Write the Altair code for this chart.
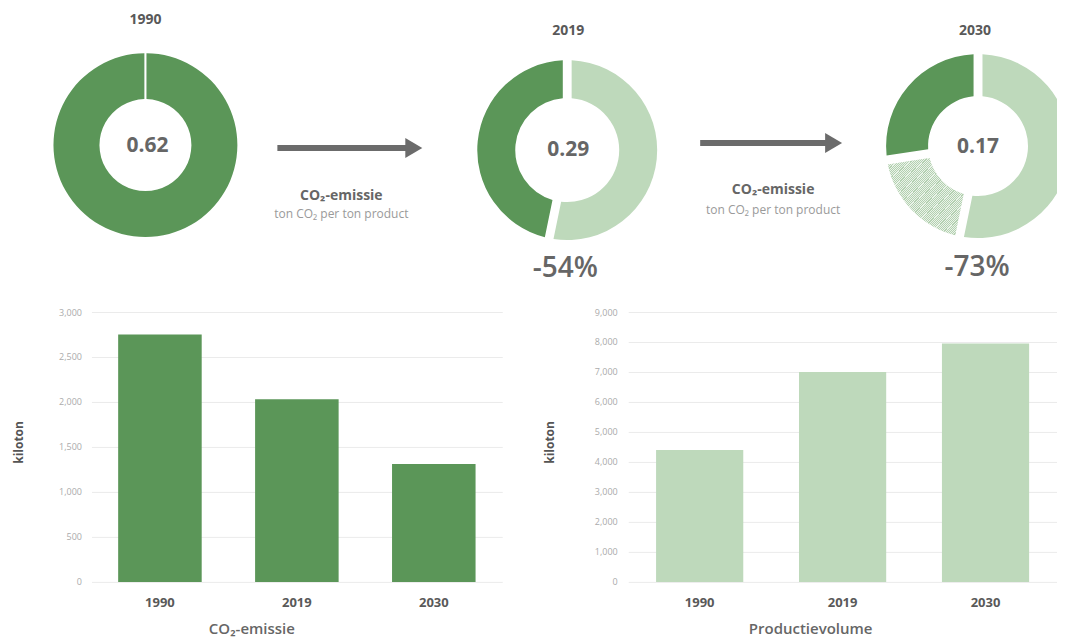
import altair as alt
import pandas as pd

# ---------------- data ----------------
years = ["1990", "2019", "2030"]
intensity = [0.62, 0.29, 0.17]            # ton CO2 per ton product
reduction_labels = ["-54%", "-73%"]
co2_kiloton = [2750, 2030, 1310]
production_kiloton = [4400, 7000, 7950]
co2_ticks = [0, 500, 1000, 1500, 2000, 2500, 3000]
prod_ticks = [0, 1000, 2000, 3000, 4000, 5000, 6000, 7000, 8000, 9000]
arrow_title = "CO₂-emissie"
arrow_sub = "ton CO₂ per ton product"
x_titles = ["CO₂-emissie", "Productievolume"]
y_title = "kiloton"

# ---------------- style ----------------
FONT = "Open Sans"
DARK = "#5b9658"
LIGHT = "#bed9bb"
ARROW = "#6b6b6b"
TXT = "#666666"

theta_scale = alt.Scale(domain=[0, intensity[0]], range=[0, 6.2829])

d1990 = pd.DataFrame({"seg": ["rest"], "value": [intensity[0]],
                      "order": [1], "color": [DARK]})
d2019 = pd.DataFrame({"seg": ["reductie", "rest"],
                      "value": [round(intensity[0] - intensity[1], 2), intensity[1]],
                      "order": [1, 2], "color": [LIGHT, DARK]})
d2030 = pd.DataFrame({"seg": ["reductie", "extra", "rest"],
                      "value": [round(intensity[0] - intensity[1], 2),
                                round(intensity[1] - intensity[2], 2), intensity[2]],
                      "order": [1, 2, 3], "color": [LIGHT, "#e2ede0", DARK]})


def donut(df, cx, cy, r_in, r_out, pad, clip=False):
    return alt.Chart(df).mark_arc(innerRadius=r_in, outerRadius=r_out,
                                  padAngle=pad, clip=clip).encode(
        theta=alt.Theta("value:Q", stack=True, scale=theta_scale),
        order=alt.Order("order:Q"),
        color=alt.Color("color:N", scale=None),
        x=alt.value(cx), y=alt.value(cy),
    )


# fine hatch texture for the extra reduction towards 2030
stops = []
n = 70
for i in range(n):
    a, b, c = i / n, (i + 0.5) / n, (i + 1) / n
    stops += [alt.GradientStop(offset=a, color="#b3d0b0"),
              alt.GradientStop(offset=b, color="#b3d0b0"),
              alt.GradientStop(offset=b, color="#eaf3e9"),
              alt.GradientStop(offset=c, color="#eaf3e9")]
hatch_fill = alt.LinearGradient(gradient="linear", stops=stops, x1=0, y1=0, x2=1, y2=1)

# top panel coordinates: origin = left edge of the first bar chart's plot area
C1990 = (54, 137)
C2019 = (476, 142)
C2030 = (887, 138)

hatch = alt.Chart(d2030).mark_arc(innerRadius=50, outerRadius=92, padAngle=0.085,
                                  clip=True, fill=hatch_fill).encode(
    theta=alt.Theta("value:Q", stack=True, scale=theta_scale),
    order=alt.Order("order:Q"),
    opacity=alt.condition(alt.datum.seg == "extra", alt.value(1), alt.value(0)),
    x=alt.value(C2030[0]), y=alt.value(C2030[1]),
)


def label(text, x, y, size, weight="normal", color=TXT):
    return alt.Chart(pd.DataFrame({"t": [text]})).mark_text(
        font=FONT, fontSize=size, fontWeight=weight, color=color,
        align="center", baseline="middle").encode(
        text="t:N", x=alt.value(x), y=alt.value(y))


def arrow(x0, x1, xh, y):
    df = pd.DataFrame({"a": [0]})
    shaft = alt.Chart(df).mark_rule(color=ARROW, strokeWidth=6).encode(
        x=alt.value(x0), x2=alt.value(x1), y=alt.value(y))
    head = alt.Chart(df).mark_point(shape="M -0.85 -1 L 0.85 0 L -0.85 1 Z",
                                    filled=True, size=400, color=ARROW, opacity=1).encode(
        x=alt.value(xh), y=alt.value(y))
    return [shaft, head]


top_layers = [
    donut(d1990, C1990[0], C1990[1], 46, 92, 0.02),
    donut(d2019, C2019[0], C2019[1], 52, 90, 0.085),
    donut(d2030, C2030[0], C2030[1], 50, 92, 0.085, clip=True),
    hatch,
    label(years[0], 54, 12, 14, "bold", "#595959"),
    label(years[1], 477, 23, 14, "bold", "#595959"),
    label(years[2], 884, 23, 14, "bold", "#595959"),
    label(f"{intensity[0]:.2f}", 56, 138, 21, "bold"),
    label(f"{intensity[1]:.2f}", 477, 142, 21, "bold"),
    label(f"{intensity[2]:.2f}", 887, 139, 21, "bold"),
    label(reduction_labels[0], 474, 261, 28, 600),
    label(reduction_labels[1], 886, 260, 28, 600),
    label(arrow_title, 250, 188, 14, "bold"),
    label(arrow_sub, 250, 206, 12, "normal", "#9a9a9a"),
    label(arrow_title, 682, 182, 14, "bold"),
    label(arrow_sub, 682, 202, 12, "normal", "#9a9a9a"),
] + arrow(186, 317, 322.5, 140) + arrow(609, 737, 742.5, 135)

top = alt.layer(*top_layers).properties(width=966, height=290)

bars_df = pd.DataFrame({"jaar": years, "co2": co2_kiloton, "prod": production_kiloton})


def bar_chart(field, color, ticks, width, x_title, title_x, y_title_x, label_pad):
    return alt.Chart(bars_df).mark_bar(color=color).encode(
        x=alt.X("jaar:N", sort=years,
                scale=alt.Scale(paddingInner=0.39, paddingOuter=0.195),
                axis=alt.Axis(title=x_title, labelAngle=0, ticks=False, tickSize=0,
                              domain=False, grid=False, labelPadding=21,
                              labelBaseline="middle", labelFont=FONT, labelFontSize=13,
                              labelFontWeight="bold", labelColor="#595959",
                              titleFont=FONT, titleFontSize=15, titleFontWeight=600,
                              titleColor=TXT, titleX=title_x, titleY=47,
                              titleBaseline="middle", titleAlign="center")),
        y=alt.Y(f"{field}:Q", scale=alt.Scale(domain=[ticks[0], ticks[-1]]),
                axis=alt.Axis(title=y_title, values=ticks, format=",d", ticks=False,
                              tickSize=0, domain=False, grid=True, gridColor="#ebebeb",
                              labelFont=FONT, labelFontSize=9, labelColor="#ababab",
                              labelPadding=label_pad, titleFont=FONT, titleFontSize=12,
                              titleFontWeight="bold", titleColor="#555555",
                              titleX=y_title_x, titleY=130, titleAngle=-90,
                              titleAlign="center", titleBaseline="middle")),
    ).properties(width=width, height=270)


left = bar_chart("co2", DARK, co2_ticks, 411, x_titles[0], 160, -72.5, 10)
right = bar_chart("prod", LIGHT, prod_ticks, 429, x_titles[1], 182, -79, 11)

chart = alt.vconcat(
    top,
    alt.hconcat(left, right, spacing=126, bounds="flush"),
    spacing=14, bounds="flush",
).properties(
    padding={"left": 4.5, "top": 0, "right": 0, "bottom": 0}
).configure(font=FONT, background="white").configure_view(stroke=None)

chart.save("out.html", embed_options={"renderer": "svg", "actions": False})
